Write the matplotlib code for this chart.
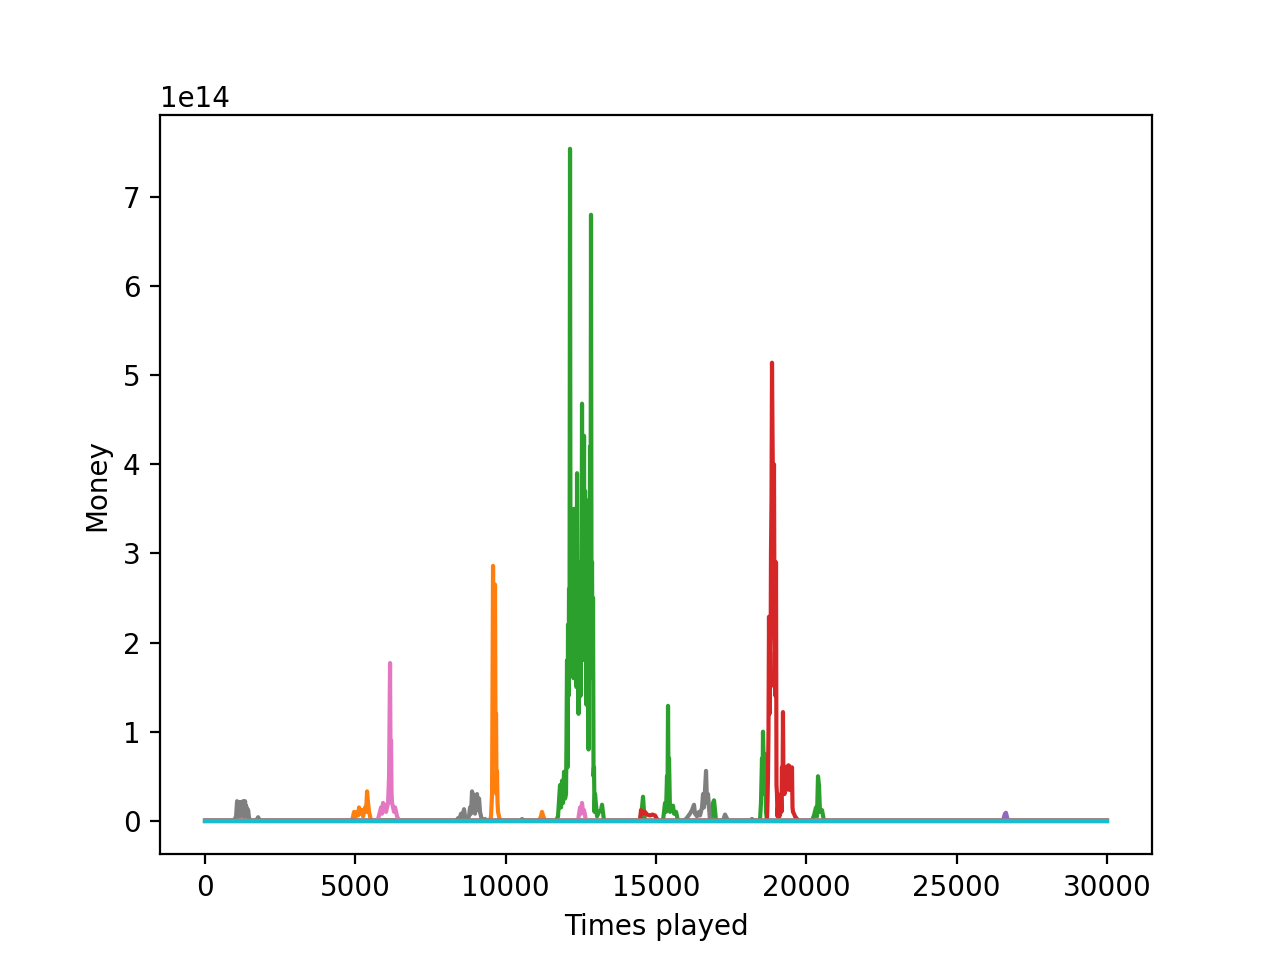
import matplotlib
matplotlib.use("Agg")
import matplotlib.pyplot as plt

# Money of each player over the games (y in units of 1e14)
# every player starts and ends at ~0 over 30000 games
end = 30000

blue_x = [0, end]
blue_y = [0, 0]

orange_x = [0, 4889, 4956, 4989, 5056, 5089, 5122, 5155, 5222, 5255, 5322,
            5355, 5388, 5421, 5455, 5521,
            9479, 9512, 9546, 9562, 9579, 9596, 9612, 9629, 9645, 9662,
            9679, 9696, 9712, 9729, 9745, 9812,
            11108, 11175, 11208, 11241, 11308, end]
orange_y = [0, 0, 0.1, 0.04, 0.1, 0.06, 0.15, 0.08, 0.12, 0.05, 0.15,
            0.1, 0.33, 0.2, 0.1, 0,
            0, 0.05, 0.3, 1.5, 2.86, 1.8, 2.6, 2.0, 2.65, 0.9,
            1.2, 0.3, 0.55, 0.2, 0.1, 0,
            0, 0.05, 0.1, 0.06, 0, 0]

green_x = [0, 11674, 11741, 11807, 11841, 11874, 11907, 11940, 11974,
           12007, 12024, 12040, 12057, 12073, 12090, 12107, 12123, 12140,
           12157, 12173, 12190, 12206, 12223, 12240, 12256, 12273, 12290,
           12306, 12323, 12339, 12356, 12373, 12389, 12406, 12423, 12439,
           12456, 12473, 12489, 12506, 12523, 12539, 12556, 12573, 12589,
           12606, 12623, 12639, 12656, 12672, 12689, 12706, 12722, 12739,
           12756, 12772, 12789, 12805, 12822, 12838, 12855, 12872, 12888,
           12905, 12922, 12938, 12955, 12972, 13038, 13105, 13171, 13205,
           13271,
           14468, 14535, 14568, 14601, 14634,
           15233, 15300, 15333, 15366, 15383, 15400, 15416, 15433, 15466,
           15499, 15566, 15600, 15666, 15732,
           16830, 16864, 16897, 16930, 16963, 16996,
           18127, 18193, 18260,
           18459, 18492, 18526, 18542, 18559, 18592, 18626, 18659, 18692,
           20189, 20256, 20322, 20356, 20389, 20422, 20455, 20522, 20588,
           end]
green_y = [0, 0, 0.05, 0.4, 0.15, 0.45, 0.2, 0.55, 0.25,
           0.3, 1.0, 1.8, 0.6, 2.2, 1.4, 2.6, 2.0, 7.54,
           2.2, 3.1, 1.8, 3.0, 2.4, 2.5, 1.6, 3.5, 2.4,
           3.4, 2.0, 3.0, 1.5, 3.9, 2.2, 2.8, 1.2, 2.6,
           1.9, 2.9, 1.4, 2.9, 2.4, 4.68, 2.0, 3.5, 2.6,
           4.32, 1.8, 3.7, 2.3, 3.6, 1.3, 3.2, 2.0, 2.9,
           0.8, 2.9, 2.1, 4.2, 2.6, 6.8, 2.4, 2.9, 1.6,
           2.5, 0.5, 0.6, 0.1, 0.3, 0.05, 0.1, 0.12, 0.18,
           0,
           0, 0.15, 0.27, 0.1, 0,
           0, 0.2, 0.1, 0.5, 0.3, 1.29, 0.4, 0.7, 0.1,
           0.15, 0.17, 0.08, 0.1, 0,
           0, 0.1, 0.2, 0.23, 0.12, 0,
           0, 0.02, 0,
           0, 0.2, 0.7, 0.3, 1.0, 0.5, 0.75, 0.1, 0,
           0, 0.06, 0.15, 0.05, 0.5, 0.4, 0.1, 0.12, 0,
           0]

red_x = [0, 14468, 14501, 14567, 14634, 14701, 14801, 14884, 14967, 15067,
         18659, 18692, 18709, 18726, 18742, 18759, 18776, 18792, 18809,
         18825, 18842, 18859, 18875, 18892, 18909, 18925, 18942, 18958,
         18975, 18992, 19008, 19025, 19041, 19058, 19075, 19091, 19108,
         19125, 19141, 19158, 19174, 19191, 19208, 19224, 19241, 19258,
         19274, 19291, 19308, 19324, 19341, 19357, 19374, 19391, 19408,
         19424, 19441, 19458, 19474, 19491, 19508, 19524, 19541, 19557,
         19590, 19624, 19690, 19757, end]
red_y = [0, 0, 0.12, 0.08, 0.1, 0.07, 0.06, 0.07, 0.06, 0,
         0, 0, 0.2, 0.5, 1.0, 2.29, 1.2, 1.9, 1.5,
         3.0, 3.6, 5.14, 4.4, 3.7, 3.2, 4.0, 2.2, 2.0,
         1.4, 2.9, 0.4, 0.3, 0.05, 0.15, 0.05, 0.1, 0.05,
         0.2, 0.1, 0.3, 0.1, 0.6, 0.3, 1.22, 0.4, 0.5,
         0.3, 0.55, 0.35, 0.6, 0.4, 0.45, 0.35, 0.62, 0.4,
         0.62, 0.35, 0.55, 0.35, 0.55, 0.4, 0.6, 0.15, 0.1,
         0.08, 0.05, 0.02, 0, 0]

purple_x = [0, 26541, 26608, 26641, 26708, end]
purple_y = [0, 0, 0.08, 0.09, 0, 0]

brown_x = [0, end]
brown_y = [0, 0]

pink_x = [0, 5687, 5754, 5854, 5887, 5920, 5953, 5987, 6020, 6087, 6120,
          6153, 6170, 6186, 6203, 6220, 6286, 6320, 6386, 6453,
          12406, 12473, 12506, 12539, 12572, 12606, 12672, end]
pink_y = [0, 0, 0.02, 0.15, 0.08, 0.2, 0.12, 0.18, 0.1, 0.2, 0.5,
          1.77, 0.6, 0.9, 0.3, 0.2, 0.1, 0.15, 0.05, 0,
          0, 0.15, 0.08, 0.2, 0.1, 0.12, 0, 0]

gray_x = [0, 965, 1031, 1064, 1081, 1097, 1114, 1131, 1147, 1164, 1180,
          1197, 1214, 1230, 1247, 1264, 1280, 1297, 1313, 1330, 1347,
          1363, 1380, 1397, 1413, 1430, 1463, 1497, 1696, 1763, 1829,
          8348, 8415, 8448, 8515, 8548, 8614, 8648, 8681, 8714, 8780,
          8814, 8847, 8880, 8897, 8914, 8947, 8980, 9014, 9047, 9080,
          9113, 9146, 9213, 9313, 9379, 10477, 10543, 10610,
          15898, 15998, 16065, 16131, 16198, 16264, 16297, 16364, 16430,
          16464, 16531, 16564, 16597, 16631, 16664, 16697, 16730, 16797,
          17229, 17296, 17396, end]
gray_y = [0, 0, 0.05, 0.22, 0.05, 0.21, 0.08, 0.2, 0.05, 0.21, 0.1,
          0.21, 0.06, 0.2, 0.1, 0.22, 0.05, 0.2, 0.1, 0.22, 0.05,
          0.17, 0.06, 0.14, 0.05, 0.12, 0.03, 0, 0, 0.04, 0,
          0, 0.03, 0.01, 0.08, 0.03, 0.13, 0.05, 0.04, 0.02, 0.05,
          0.15, 0.08, 0.33, 0.12, 0.3, 0.2, 0.08, 0.28, 0.30, 0.12,
          0.25, 0.1, 0, 0.02, 0, 0, 0.02, 0,
          0, 0.02, 0.05, 0.08, 0.12, 0.18, 0.08, 0.05, 0.1,
          0.06, 0.15, 0.3, 0.15, 0.35, 0.56, 0.2, 0.3, 0,
          0, 0.07, 0, 0]

olive_x = [0, end]
olive_y = [0, 0]

cyan_x = [0, end]
cyan_y = [0, 0]

players = [(blue_x, blue_y), (orange_x, orange_y), (green_x, green_y),
           (red_x, red_y), (purple_x, purple_y), (brown_x, brown_y),
           (pink_x, pink_y), (gray_x, gray_y), (olive_x, olive_y),
           (cyan_x, cyan_y)]

plt.figure(figsize=(6.4, 4.8), dpi=200)
for xs, ys in players:
    plt.plot(xs, [v * 1e14 for v in ys])
plt.xlabel("Times played")
plt.ylabel("Money")
plt.savefig("out.png")
